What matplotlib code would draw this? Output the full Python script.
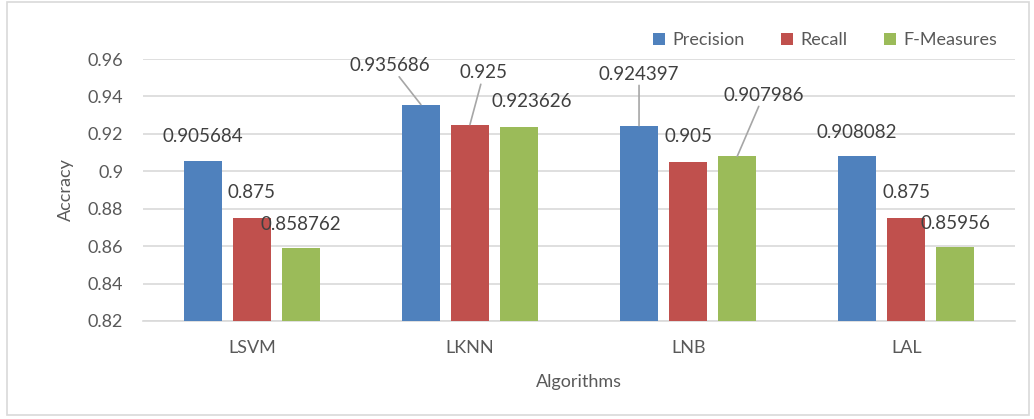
import numpy as np
import matplotlib.pyplot as plt
from matplotlib.patches import Rectangle

algorithms = ["LSVM", "LKNN", "LNB", "LAL"]
precision = [0.905684, 0.935686, 0.924397, 0.908082]
recall = [0.875, 0.925, 0.905, 0.875]
f_measures = [0.858762, 0.923626, 0.907986, 0.85956]
value_labels = [
    ["0.905684", "0.935686", "0.924397", "0.908082"],
    ["0.875", "0.925", "0.905", "0.875"],
    ["0.858762", "0.923626", "0.907986", "0.85956"],
]
series_names = ["Precision", "Recall", "F-Measures"]
colors = ["#4F81BD", "#C0504D", "#9BBB59"]
yticks = [0.82, 0.84, 0.86, 0.88, 0.9, 0.92, 0.94, 0.96]
ytick_labels = ["0.82", "0.84", "0.86", "0.88", "0.9", "0.92", "0.94", "0.96"]

# label offsets in points (dx, dy) from bar top; leader line flag
offsets = [
    [(0, 11, False), (-22, 22, True), (0, 31, True), (0, 11, False)],
    [(0, 12, False), (10, 31, True), (0, 12, False), (0, 12, False)],
    [(0, 11, False), (9, 12, False), (19, 38, True), (0, 11, False)],
]

plt.rcParams['font.family'] = ['Lato', 'DejaVu Sans']
txt = "#595959"

fig = plt.figure(figsize=(10.34, 4.19), dpi=100)
ax = fig.add_axes([0.138, 0.234, 0.844, 0.625])

x = np.arange(len(algorithms))
step = 0.225
width = 0.175
all_vals = [precision, recall, f_measures]
for i, vals in enumerate(all_vals):
    xs = x + (i - 1) * step
    ax.bar(xs, np.array(vals) - 0.82, width, bottom=0.82, color=colors[i],
           label=series_names[i], zorder=3)
    for j, v in enumerate(vals):
        dx, dy, leader = offsets[i][j]
        if leader:
            ax.annotate(value_labels[i][j], xy=(xs[j], v), xytext=(dx, dy),
                        textcoords="offset points", ha="center", va="bottom",
                        fontsize=13.5, color="#404040",
                        arrowprops=dict(arrowstyle="-", color="#A6A6A6", lw=1.2,
                                        shrinkA=0, shrinkB=0))
        else:
            ax.annotate(value_labels[i][j], xy=(xs[j], v), xytext=(dx, dy),
                        textcoords="offset points", ha="center", va="bottom",
                        fontsize=13.5, color="#404040")

ax.set_xlim(-0.5, 3.5)
ax.set_ylim(0.82, 0.96)
ax.set_yticks(yticks)
ax.set_yticklabels(ytick_labels)
ax.set_xticks(x)
ax.set_xticklabels(algorithms)
ax.tick_params(length=0, labelsize=13, colors=txt)
ax.tick_params(axis="y", pad=14)
ax.tick_params(axis="x", pad=14)
ax.grid(axis="y", color="#D9D9D9", lw=1.2, zorder=0)
for s in ["top", "right", "left"]:
    ax.spines[s].set_visible(False)
ax.spines["bottom"].set_color("#D9D9D9")
ax.spines["bottom"].set_linewidth(1.2)

ax.set_ylabel("Accracy", fontsize=13, color=txt, labelpad=10)
ax.set_xlabel("Algorithms", fontsize=13, color=txt, labelpad=13)

ax.legend(loc="lower right", bbox_to_anchor=(0.992, 1.0), ncol=3, frameon=False,
          fontsize=13, labelcolor=txt, handlelength=0.7, handleheight=0.7,
          handletextpad=0.4, columnspacing=2.0, borderaxespad=0.2)

fig.patches.append(Rectangle((0.007, 0.01), 0.988, 0.985, transform=fig.transFigure,
                             fill=False, edgecolor="#D9D9D9", lw=1.2))

fig.savefig("out.png", dpi=100)
